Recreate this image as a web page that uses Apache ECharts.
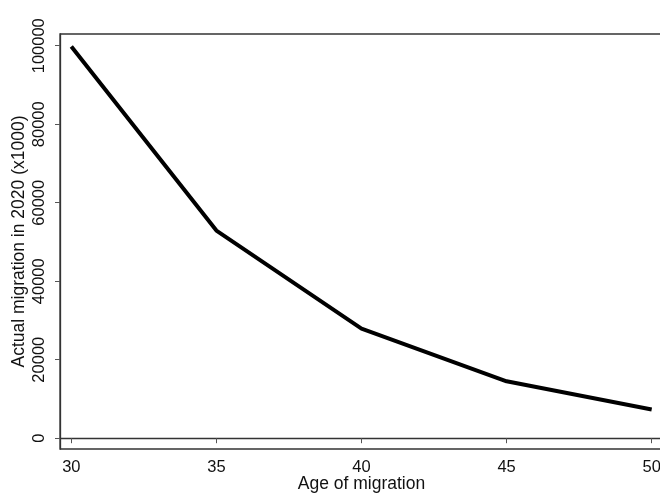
<!DOCTYPE html>
<html>
<head>
<meta charset="utf-8">
<script src="https://cdn.jsdelivr.net/npm/echarts@6/dist/echarts.min.js"></script>
<style>
html,body{margin:0;padding:0;background:#fff;}
#chart{width:660px;height:494px;}
</style>
</head>
<body>
<div id="chart"></div>
<script>
var ages = [30, 35, 40, 45, 50];
var migration = [99800, 52900, 27900, 14500, 7300];
var yTicks = [0, 20000, 40000, 60000, 80000, 100000];
var xTitle = 'Age of migration';
var yTitle = 'Actual migration in 2020 (x1000)';

var chart = echarts.init(document.getElementById('chart'), null, {renderer: 'canvas'});
var font = 'Liberation Sans, Arial, sans-serif';
chart.setOption({
  animation: false,
  backgroundColor: '#fff',
  grid: {left: 60, top: 34, right: -3, bottom: 45, outerBoundsMode: 'none', containLabel: false, show: true, borderColor: '#333', borderWidth: 1.3, backgroundColor: 'transparent'},
  xAxis: {
    type: 'value', min: 29.61, max: 50.39, interval: 5,
    name: xTitle, nameLocation: 'middle', nameGap: 26, nameMoveOverlap: false,
    nameTextStyle: {fontFamily: font, fontSize: 17.5, color: '#111'},
    axisLine: {show: true, lineStyle: {color: '#333', width: 1.3}},
    axisTick: {show: true, length: 5, lineStyle: {color: '#555', width: 1}, customValues: ages},
    axisLabel: {fontFamily: font, fontSize: 16.5, color: '#111', margin: 10, customValues: ages, formatter: function(v){return String(v);}},
    splitLine: {show: false}
  },
  yAxis: {
    type: 'value', min: -2750, max: 102990,
    name: yTitle, nameLocation: 'middle', nameGap: 32, nameMoveOverlap: false,
    nameTextStyle: {fontFamily: font, fontSize: 17.5, color: '#111'},
    axisLine: {show: true, lineStyle: {color: '#333', width: 1.3}},
    axisTick: {show: true, length: 5, lineStyle: {color: '#555', width: 1}, customValues: yTicks},
    axisLabel: {fontFamily: font, fontSize: 16.5, color: '#111', margin: 12, rotate: 90, customValues: yTicks, formatter: function(v){return String(v);}},
    splitLine: {show: false}
  },
  series: [{
    type: 'line',
    data: ages.map(function(a, i){ return [a, migration[i]]; }),
    symbol: 'none',
    lineStyle: {color: '#000', width: 4},
    clip: true
  }]
});
</script>
</body>
</html>
